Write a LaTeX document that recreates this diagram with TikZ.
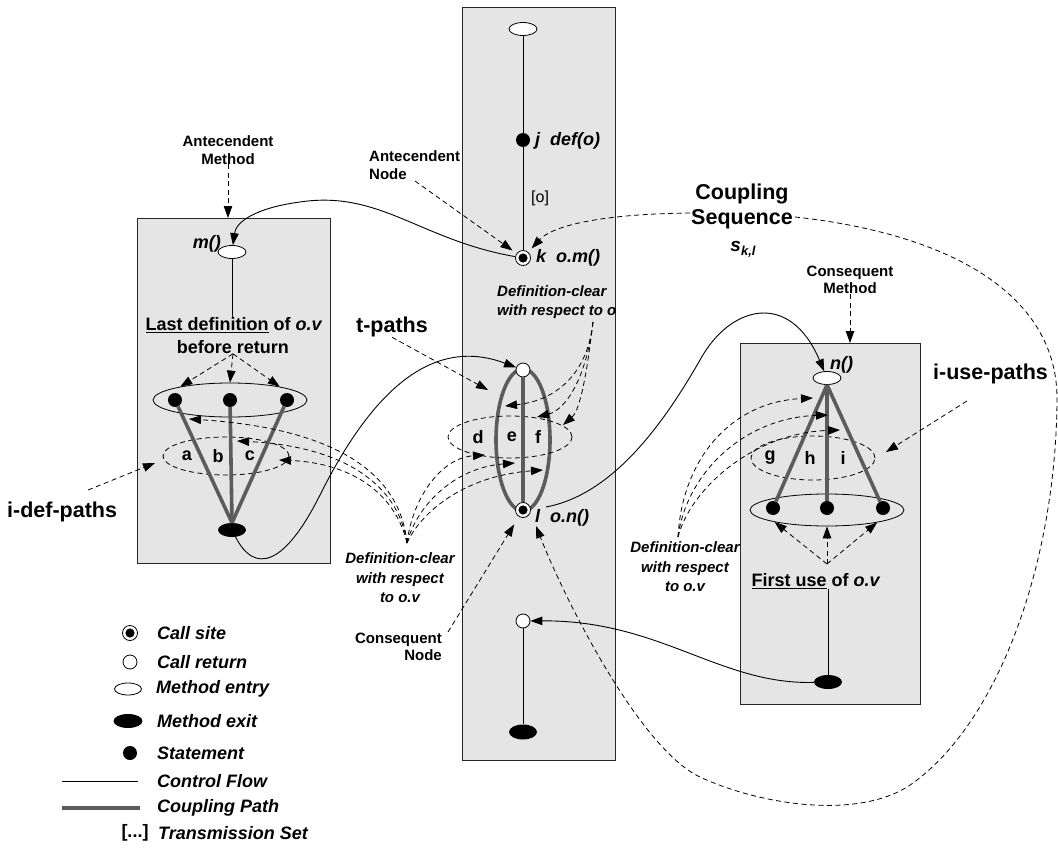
\documentclass[tikz,border=0pt]{standalone}
\usepackage{fontspec}
\setmainfont{Liberation Sans}
\usetikzlibrary{arrows.meta,shapes.geometric}
\definecolor{panelgray}{RGB}{229,229,229}
\definecolor{pathgray}{RGB}{92,92,92}
\begin{document}
\begin{tikzpicture}[x=1pt,y=-1pt,
  panel/.style={rectangle,draw=black!85,line width=1pt,fill=panelgray,inner sep=0pt,outer sep=0pt},
  flow/.style={line width=0.9pt},
  couple/.style={line width=3.6pt,draw=pathgray},
  dashline/.style={dash pattern=on 5pt off 3.5pt,line width=0.8pt},
  arrowtip/.style={-{Triangle[length=12pt,width=8.5pt]}},
  entry/.style={ellipse,draw,line width=0.8pt,fill=white,minimum width=28pt,minimum height=13pt,inner sep=0pt},
  exitnode/.style={ellipse,fill=black,minimum width=28pt,minimum height=14pt,inner sep=0pt},
  stmt/.style={circle,fill=black,minimum size=14pt,inner sep=0pt},
  callret/.style={circle,draw,line width=0.8pt,fill=white,minimum size=14pt,inner sep=0pt},
  callsite/.style={circle,draw,line width=0.8pt,fill=white,minimum size=15pt,inner sep=0pt},
  setring/.style={ellipse,draw,line width=0.8pt,inner sep=0pt},
  pathring/.style={ellipse,draw,dashline,inner sep=0pt},
  lblsmall/.style={font=\fontsize{15}{17.5}\selectfont\bfseries,inner sep=0pt,align=center},
  lbldef/.style={font=\fontsize{15}{19.5}\selectfont\bfseries\itshape,inner sep=0pt,align=center},
  lblmid/.style={font=\fontsize{18}{21}\selectfont\bfseries,inner sep=0pt},
  lblmidit/.style={font=\fontsize{18}{21}\selectfont\bfseries\itshape,inner sep=0pt},
  lblbig/.style={font=\fontsize{21.5}{25}\selectfont\bfseries,inner sep=0pt,align=center},
]
\fill[white] (0,0) rectangle (1058,856);
\useasboundingbox (0,0) rectangle (1058,856);

% ---------- method panels ----------
\node[panel,minimum width=193pt,minimum height=345pt] (lpanel) at (233.5,390.5) {};
\node[panel,minimum width=153pt,minimum height=752pt] (cpanel) at (538.5,384) {};
\node[panel,minimum width=180pt,minimum height=361pt] (rpanel) at (830,523.5) {};

% coupling paths between call return and call site in the caller
\draw[couple] (523,440) ellipse [x radius=27pt,y radius=71pt];

% statement sets and groups of paths
\node[setring,minimum width=154pt,minimum height=34pt] (ldefset) at (230,400) {};
\node[setring,minimum width=154pt,minimum height=32pt] (ruseset) at (827,510) {};
\node[pathring,minimum width=126pt,minimum height=38pt] (abcring) at (226,456) {};
\node[pathring,minimum width=124pt,minimum height=42pt] (defring) at (510,437) {};
\node[pathring,minimum width=124pt,minimum height=44pt] (ghiring) at (813,458) {};

% ---------- caller (centre) ----------
\node[entry] (centry) at (523,29) {};
\node[stmt] (j) at (523,140) {};
\node[callsite] (k) at (523,258) {};
\fill (k.center) circle (4.6pt);
\node[callret] (tc) at (523,370) {};
\node[callsite] (l) at (523,510) {};
\fill (l.center) circle (4.6pt);
\node[callret] (cr) at (523,621) {};
\node[exitnode,minimum height=15pt] (cexit) at (523,732) {};

\draw[flow] (centry) -- (j) -- (k);
\draw[flow] (cr) -- (cexit);
\draw[couple] (tc) -- (l);

\node[lblmidit,anchor=west] (jlbl) at (535,141) {j\hspace{0.55em}def(o)};
\node[lblmidit,anchor=west] (klbl) at (536,258) {k\hspace{0.55em}o.m()};
\node[lblmidit,anchor=west] (llbl) at (535,518) {l\hspace{0.55em}o.n()};
\node[font=\fontsize{16}{19}\selectfont,inner sep=0pt,anchor=west] (tset) at (531,198) {[o]};

% ---------- antecedent method (left) ----------
\node[entry] (m) at (232,252) {};
\node[stmt] (ld1) at (175,400) {};
\node[stmt] (ld2) at (230,400) {};
\node[stmt] (ld3) at (287,400) {};
\node[exitnode] (lexit) at (232,530) {};

\node[lblmidit,anchor=east] (mlbl) at (221,244) {m()};
\node[lblmid] (lastdef) at (234,325) {\underline{Last definition} of \textit{o.v}};
\node[lblmid] (beforeret) at (233,347) {before return};
\draw[flow] (m) -- (m |- lastdef.north);
\draw[couple] (ld1) -- (lexit.north);
\draw[couple] (ld2) -- (lexit.north);
\draw[couple] (ld3) -- (lexit.north);
\node[lblmid] (la) at (187,456) {a};
\node[lblmid] (lb) at (218,456) {b};
\node[lblmid] (lc) at (250,456) {c};

% ---------- consequent method (right) ----------
\node[entry] (n) at (827,378) {};
\node[stmt] (rd1) at (773,508) {};
\node[stmt] (rd2) at (827,508) {};
\node[stmt] (rd3) at (883,508) {};
\node[exitnode] (rexit) at (828,682) {};

\node[lblmidit,anchor=west] (nlbl) at (830,365) {n()};
\node[lblmid] (firstuse) at (816,581) {\underline{First use} of \textit{o.v}};
\draw[flow] (rexit) -- (rexit |- firstuse.south);
\draw[couple] (n.south) -- (rd1);
\draw[couple] (n.south) -- (rd2);
\draw[couple] (n.south) -- (rd3);
\node[lblmid] (lg) at (770,458) {g};
\node[lblmid] (lh) at (810,458) {h};
\node[lblmid] (li) at (843,458) {i};
\node[lblmid] (ld) at (478,437) {d};
\node[lblmid] (le) at (512,437) {e};
\node[lblmid] (lf) at (538,437) {f};

% ---------- calls and returns ----------
\coordinate (lout) at (546,507);
\draw[flow,arrowtip] (k) .. controls (420,240) and (380,190) .. (300,202)
  .. controls (255,208) and (236,222) .. (m);
\draw[flow,arrowtip] (lexit) .. controls (255,575) and (285,565) .. (320,495)
  .. controls (370,395) and (430,335) .. (tc);
\draw[flow,arrowtip] (lout) .. controls (610,495) and (660,430) .. (700,360)
  .. controls (730,305) and (790,290) .. (n);
\draw[flow,arrowtip] (rexit) .. controls (720,685) and (660,620) .. (cr);

% ---------- annotations ----------
\node[lblsmall] (am) at (228,150) {Antecendent\\Method};
\draw[dashline,arrowtip] (am.south) -- (am.south |- lpanel.north);

\node[lblsmall,anchor=west,align=left] (an) at (369,165) {Antecendent\\Node};
\coordinate (antail) at (415,181);
\draw[dashline,arrowtip,shorten >=5pt] (antail) -- (k);

\node[lblsmall] (cm) at (850,280) {Consequent\\Method};
\draw[dashline,arrowtip] (cm.south) -- (cm.south |- rpanel.north);

\node[lblsmall,anchor=east,align=right] (cn) at (442,647) {Consequent\\Node};
\coordinate (cntail) at (448,632);
\draw[dashline,arrowtip,shorten >=9pt] (cntail) -- (l);

\node[lblbig] (seq) at (742,206) {Coupling\\Sequence};
\node[font=\fontsize{19}{22}\selectfont\bfseries\itshape,inner sep=0pt] (skl) at (743,249)
  {s\raisebox{-4pt}{\fontsize{13}{13}\selectfont k,l}};
\coordinate (seqL) at (690,213);
\coordinate (seqR) at (795,217);
\coordinate (lin) at (536,526);
\draw[dashline,arrowtip,shorten >=5pt] (seqL) .. controls (600,214) and (552,226) .. (k);
\draw[dashline,arrowtip] (seqR) .. controls (960,235) and (1058,300) .. (1057,400)
  .. controls (1056,560) and (1000,720) .. (913,783)
  .. controls (861,821) and (760,805) .. (700,777)
  .. controls (640,749) and (565,600) .. (lin);

\node[lblbig,anchor=east] (tpaths) at (428,327) {t-paths};
\coordinate (tptip) at (488,390);
\draw[dashline,arrowtip] (tpaths.south) -- (tptip);

\node[lblbig,anchor=west] (idef) at (7,512) {i-def-paths};
\coordinate (ideftail) at (88,490);
\coordinate (ideftip) at (155,463);
\draw[dashline,arrowtip] (ideftail) -- (ideftip);

\node[lblbig,anchor=west] (iuse) at (933,374) {i-use-paths};
\coordinate (iusetail) at (967,401);
\coordinate (iusetip) at (886,452);
\draw[dashline,arrowtip] (iusetail) -- (iusetip);

% last definitions and first uses
\draw[dashline,arrowtip] (beforeret.south) -- (ldefset.165);
\draw[dashline,arrowtip] (beforeret.south) -- (ldefset.north);
\draw[dashline,arrowtip] (beforeret.south) -- (ldefset.15);
\coordinate (fufan) at (827,564);
\draw[dashline,arrowtip] (fufan) -- (ruseset.193.5);
\draw[dashline,arrowtip] (fufan) -- (ruseset.south);
\draw[dashline,arrowtip] (fufan) -- (ruseset.346.5);

% definition-clear with respect to o
\node[lbldef,anchor=west,align=left] (dco) at (497,302) {Definition-clear\\with respect to o};
\coordinate (dcofan) at (593,322);
\coordinate (tipo1) at (505,406);
\coordinate (tipo2) at (537,417);
\coordinate (tipo3) at (563,425);
\draw[dashline,arrowtip] (dcofan) .. controls (588,370) and (560,400) .. (tipo1);
\draw[dashline,arrowtip] (dcofan) .. controls (586,380) and (565,410) .. (tipo2);
\draw[dashline,arrowtip] (dcofan) .. controls (585,390) and (578,412) .. (tipo3);

% definition-clear with respect to o.v (antecedent side and caller)
\node[lbldef] (dcl) at (400,578) {Definition-clear\\with respect\\to o.v};
\coordinate (dclfan) at (407,543);
\coordinate (tipa) at (189,419);
\coordinate (tipb) at (237,441);
\coordinate (tipc) at (279,460);
\coordinate (tipd) at (485,455);
\coordinate (tipe) at (515,463);
\coordinate (tipf) at (543,470);
\draw[dashline,arrowtip] (dclfan) .. controls (400,470) and (330,428) .. (tipa);
\draw[dashline,arrowtip] (dclfan) .. controls (398,482) and (340,446) .. (tipb);
\draw[dashline,arrowtip] (dclfan) .. controls (395,492) and (350,463) .. (tipc);
\draw[dashline,arrowtip] (dclfan) .. controls (412,500) and (440,458) .. (tipd);
\draw[dashline,arrowtip] (dclfan) .. controls (416,508) and (452,468) .. (tipe);
\draw[dashline,arrowtip] (dclfan) .. controls (420,514) and (462,476) .. (tipf);

% definition-clear with respect to o.v (consequent side)
\node[lbldef] (dcr) at (685,567) {Definition-clear\\with respect\\to o.v};
\coordinate (dcrfan) at (678,537);
\coordinate (tipg) at (813,398);
\coordinate (tiph) at (828,415);
\coordinate (tipi) at (840,430);
\draw[dashline,arrowtip] (dcrfan) .. controls (682,460) and (730,402) .. (tipg);
\draw[dashline,arrowtip] (dcrfan) .. controls (686,475) and (742,418) .. (tiph);
\draw[dashline,arrowtip] (dcrfan) .. controls (690,490) and (752,433) .. (tipi);

% ---------- legend ----------
\node[callsite] (lgcs) at (130,633) {};
\fill (lgcs.center) circle (4.6pt);
\node[callret] (lgcr) at (130,662) {};
\node[entry,minimum width=27pt,minimum height=12pt] (lgen) at (128,689) {};
\node[exitnode,minimum width=29pt,minimum height=14pt] (lgex) at (128,721) {};
\node[stmt] (lgst) at (130,753) {};
\coordinate (lgcfa) at (62,781);
\coordinate (lgcfb) at (138,781);
\draw[flow] (lgcfa) -- (lgcfb);
\coordinate (lgcpa) at (62,808);
\coordinate (lgcpb) at (140,808);
\draw[couple] (lgcpa) -- (lgcpb);
\node[lblmid] (lgts) at (135,833) {[...]};

\node[lblmidit,anchor=west] (lgt1) at (157,633) {Call site};
\node[lblmidit,anchor=west] (lgt2) at (157,662) {Call return};
\node[lblmidit,anchor=west] (lgt3) at (156,689) {Method entry};
\node[lblmidit,anchor=west] (lgt4) at (157,721) {Method exit};
\node[lblmidit,anchor=west] (lgt5) at (157,753) {Statement};
\node[lblmidit,anchor=west] (lgt6) at (157,781) {Control Flow};
\node[lblmidit,anchor=west] (lgt7) at (157,808) {Coupling Path};
\node[lblmidit,anchor=west] (lgt8) at (158,833) {Transmission Set};
\end{tikzpicture}
\end{document}
